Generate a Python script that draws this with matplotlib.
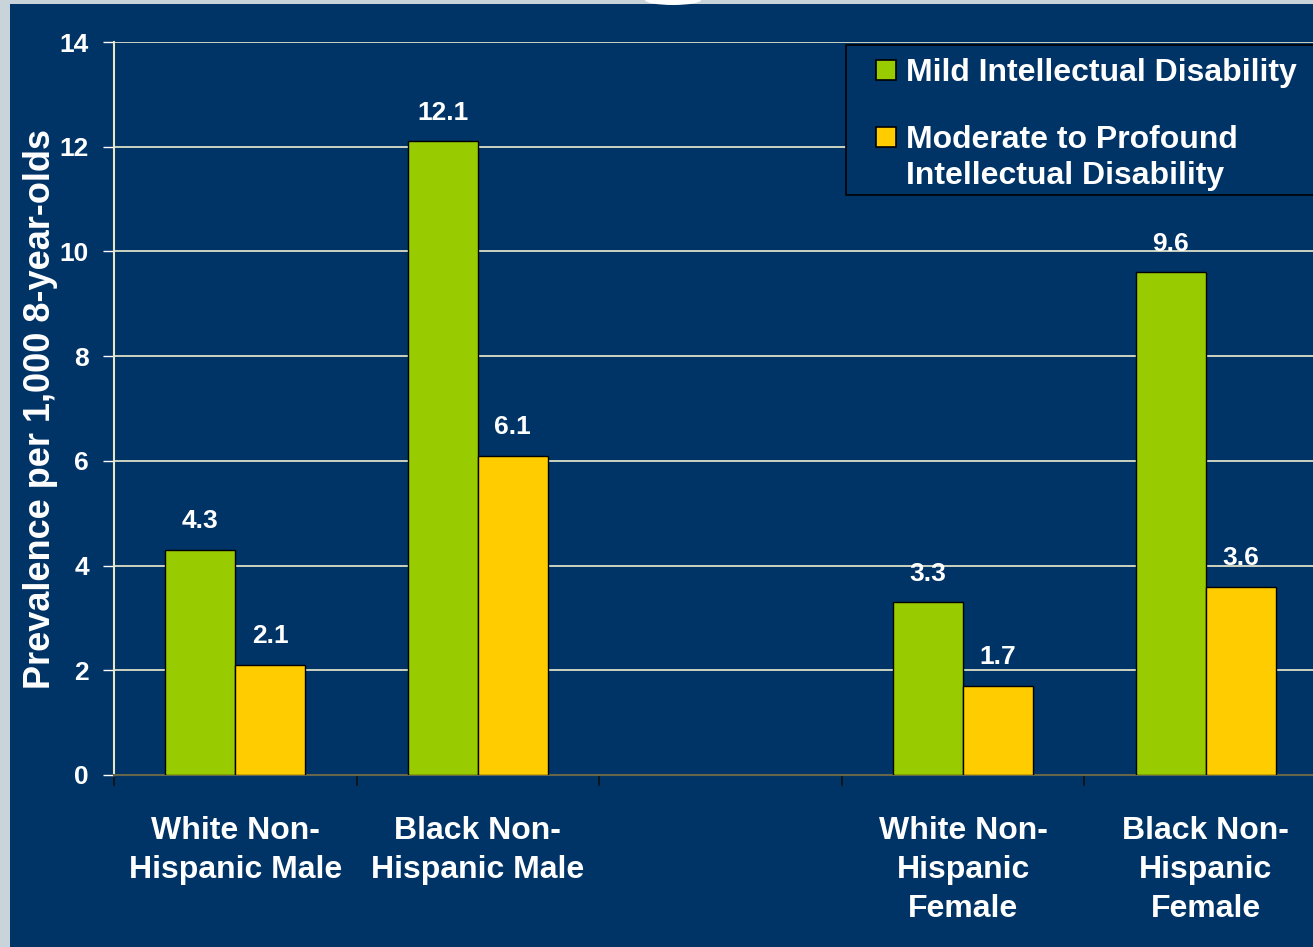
import numpy as np
import matplotlib
matplotlib.use("Agg")
import matplotlib.pyplot as plt
from matplotlib.patches import Rectangle, Ellipse

# Data (the empty middle slot is a gap in the original chart)
categories = ["White Non-\nHispanic Male", "Black Non-\nHispanic Male", "",
              "White Non-\nHispanic\nFemale", "Black Non-\nHispanic\nFemale"]
mild = [4.3, 12.1, np.nan, 3.3, 9.6]
moderate = [2.1, 6.1, np.nan, 1.7, 3.6]
series_names = ["Mild Intellectual Disability",
                "Moderate to Profound\nIntellectual Disability"]

NAVY = "#003366"
GREEN = "#99cc00"
YELLOW = "#ffcc00"
BORDER = "#c9d3da"

plt.rcParams["font.family"] = ["Liberation Sans", "DejaVu Sans"]
plt.rcParams["font.weight"] = "bold"

W, H = 1313, 947
fig = plt.figure(figsize=(W / 100, H / 100), dpi=100, facecolor=BORDER)

def fx(px):
    return px / W

def fy(py):
    return 1 - py / H

# navy slide background + white shape at top
fig.patches.append(Rectangle((fx(10), 0), 1, fy(4), transform=fig.transFigure,
                             facecolor=NAVY, edgecolor="none", zorder=-2))
fig.patches.append(Ellipse((fx(673), 1.0), fx(56), 10 / H, transform=fig.transFigure,
                           facecolor="white", edgecolor="none", zorder=-1))

left, right, top, bottom = 114, 1327, 42, 775
ax = fig.add_axes([fx(left), fy(bottom), fx(right - left), (bottom - top) / H])
ax.set_facecolor("none")

x = np.arange(len(categories))
bw = 0.288
for i in x:
    if np.isnan(mild[i]):
        continue
    ax.bar(i - bw / 2, mild[i], bw, color=GREEN, edgecolor="black", linewidth=1, zorder=3)
    ax.bar(i + bw / 2, moderate[i], bw, color=YELLOW, edgecolor="black", linewidth=1, zorder=3)
    for off, v in ((-bw / 2, mild[i]), (bw / 2, moderate[i])):
        ax.annotate(f"{v:.1f}", (i + off, v), xytext=(0, 12), textcoords="offset points",
                    ha="center", va="bottom", color="white", fontsize=19, fontweight="bold")

ax.set_xlim(-0.5, len(categories) - 0.5)
ax.set_ylim(0, 14)
ax.set_yticks(np.arange(0, 15, 2))
ax.yaxis.grid(True, color="#eeeed0", linewidth=1.2, zorder=1)
ax.set_axisbelow(True)

# tick marks at slot boundaries, labels at slot centres
ax.set_xticks(np.arange(-0.5, len(categories), 1.0))
ax.set_xticklabels([])
ax.tick_params(axis="x", which="major", length=8, width=1.2, color="#111111", direction="out")
ax.set_xticks(x, categories, minor=True)
ax.tick_params(axis="x", which="minor", length=0, pad=29.5, labelsize=23, labelcolor="white")
for lbl in ax.get_xticklabels(minor=True):
    lbl.set_fontweight("bold")
    lbl.set_linespacing(1.4)
    lbl.set_va("top")

ax.tick_params(axis="y", length=8, width=1, color="white", pad=10, labelsize=19, labelcolor="white")
ax.set_ylabel("Prevalence per 1,000 8-year-olds", color="white", fontsize=26,
              fontweight="bold", labelpad=1)

for s in ("top", "right"):
    ax.spines[s].set_visible(False)
ax.spines["left"].set_color("#e6e6c4")
ax.spines["left"].set_linewidth(1.5)
ax.spines["bottom"].set_color("#66664a")
ax.spines["bottom"].set_linewidth(1.5)

# legend drawn by hand so the swatch sits on the first line of a wrapped label
fig.patches.append(Rectangle((fx(846), fy(195)), fx(480), 150 / H, transform=fig.transFigure,
                             facecolor=NAVY, edgecolor="black", linewidth=1.2, zorder=5))
for name, col, yc in zip(series_names, [GREEN, YELLOW], [70, 137]):
    fig.patches.append(Rectangle((fx(876), fy(yc + 10)), fx(20), 20 / H,
                                 transform=fig.transFigure, facecolor=col,
                                 edgecolor="black", linewidth=1.2, zorder=6))
    fig.text(fx(906), fy(yc - 12), name, color="white", fontsize=23, fontweight="bold",
             ha="left", va="top", linespacing=1.25, zorder=6)

fig.savefig("out.png", dpi=100, facecolor=fig.get_facecolor())
